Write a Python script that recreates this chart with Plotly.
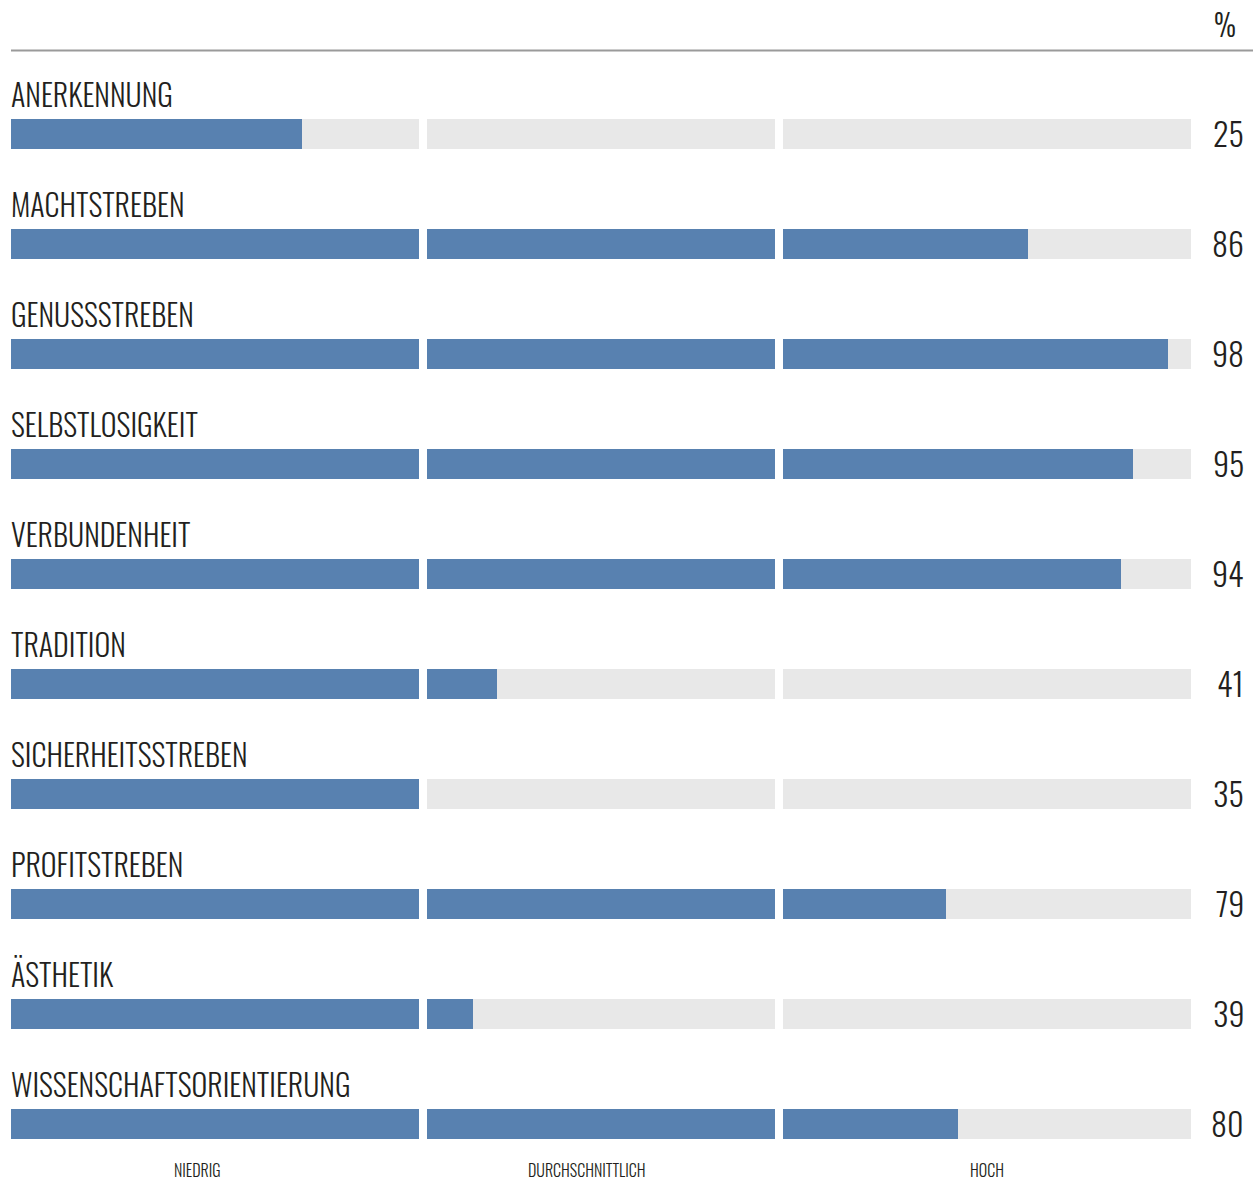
import plotly.graph_objects as go

# ---- data ----
categories = ["ANERKENNUNG", "MACHTSTREBEN", "GENUSSSTREBEN", "SELBSTLOSIGKEIT",
              "VERBUNDENHEIT", "TRADITION", "SICHERHEITSSTREBEN", "PROFITSTREBEN",
              "ÄSTHETIK", "WISSENSCHAFTSORIENTIERUNG"]
values = [25, 86, 98, 95, 94, 41, 35, 79, 39, 80]
value_labels = ["25", "86", "98", "95", "94", "41", "35", "79", "39", "80"]
segment_names = ["NIEDRIG", "DURCHSCHNITTLICH", "HOCH"]
segment_bounds = [(0, 35), (35, 65), (65, 100)]
unit_label = "%"

# ---- styling ----
W, H = 1253, 1182
BLUE = "#5881b0"
GREY = "#e8e8e8"
TXT = "#231f20"
FONT = "Oswald, Roboto Condensed, sans-serif"
domains = [(11 / W, 419 / W), (427 / W, 775 / W), (783 / W, 1191 / W)]
row_px0, row_step = 134, 110
bar_w = 30 / row_step
y_top = -row_px0 / row_step
y_bot = (H - row_px0) / row_step

ys = list(range(len(categories)))
fig = go.Figure()
axis_ids = ["x", "x2", "x3"]
for k, (a, b) in enumerate(segment_bounds):
    fig.add_trace(go.Bar(
        y=ys, x=[b - a] * len(ys), base=[a] * len(ys), orientation="h",
        marker=dict(color=GREY, line=dict(width=0)), width=bar_w,
        xaxis=axis_ids[k], yaxis="y", hoverinfo="skip", showlegend=False))
    fill = [min(max(v - a, 0), b - a) for v in values]
    fig.add_trace(go.Bar(
        y=ys, x=fill, base=[a] * len(ys), orientation="h",
        marker=dict(color=BLUE, line=dict(width=0)), width=bar_w,
        xaxis=axis_ids[k], yaxis="y", showlegend=False,
        hovertemplate="%{y}: %{x}<extra></extra>"))

annotations = []
for i, (c, lab) in enumerate(zip(categories, value_labels)):
    annotations.append(dict(text=c, xref="paper", x=9 / W, xanchor="left",
                            yref="y", y=i, yanchor="middle", yshift=41,
                            showarrow=False, font=dict(family=FONT, size=30, weight=350, color=TXT)))
    annotations.append(dict(text=lab, xref="paper", x=1246 / W, xanchor="right",
                            yref="y", y=i, yanchor="middle", yshift=2,
                            showarrow=False, font=dict(family=FONT, size=32, weight=350, color=TXT)))
annotations.append(dict(text=unit_label, xref="paper", x=1238 / W, xanchor="right",
                        yref="y", y=-1, yanchor="middle", yshift=1, showarrow=False,
                        font=dict(family=FONT, size=30, weight=350, color=TXT)))
seg_label_x = [16, 48.8, 82.5]
for k, name in enumerate(segment_names):
    annotations.append(dict(text=name, xref=axis_ids[k], x=seg_label_x[k], xanchor="center",
                            yref="paper", y=1 - 1170 / H, yanchor="middle", showarrow=False,
                            font=dict(family=FONT, size=16, weight=350, color=TXT)))

layout_axes = {}
for k in range(3):
    key = "xaxis" if k == 0 else f"xaxis{k + 1}"
    layout_axes[key] = dict(domain=list(domains[k]), range=list(segment_bounds[k]),
                            visible=False, fixedrange=True, anchor="y")

fig.update_layout(
    width=W, height=H, margin=dict(l=0, r=0, t=0, b=0),
    paper_bgcolor="white", plot_bgcolor="white",
    barmode="overlay", bargap=0,
    yaxis=dict(range=[y_bot, y_top], visible=False, fixedrange=True, domain=[0, 1]),
    annotations=annotations,
    shapes=[dict(type="line", xref="paper", yref="paper", x0=11 / W, x1=1,
                 y0=1 - 50.5 / H, y1=1 - 50.5 / H, line=dict(color="#9a9a9a", width=2))],
    **layout_axes,
)

fig.write_html("out.html", config=dict(displayModeBar=False),
               post_script="document.body.style.margin='0';")
